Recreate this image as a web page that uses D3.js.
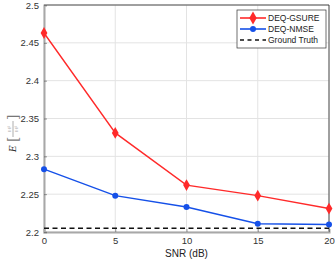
<!DOCTYPE html>
<html><head><meta charset="utf-8">
<script src="https://cdn.jsdelivr.net/npm/d3@7/dist/d3.min.js"></script>
<style>body{margin:0;background:#fff}svg{display:block;font-family:"Liberation Sans",Arial,sans-serif}</style>
</head><body><svg id="c" width="336" height="261"></svg>
<script>
const snr = [0, 5, 10, 15, 20];
const gsure = [2.463, 2.331, 2.262, 2.248, 2.231];
const nmse = [2.283, 2.248, 2.233, 2.211, 2.210];
const groundTruth = 2.205;
const xTicks = [0, 5, 10, 15, 20];
const yTicks = [2.2, 2.25, 2.3, 2.35, 2.4, 2.45, 2.5];
const seriesNames = ["DEQ-GSURE", "DEQ-NMSE", "Ground Truth"];

const svg = d3.select("#c");
const m = {l:44, r:7, t:5, b:29};
const W = 336, H = 261;
const x = d3.scaleLinear().domain([0,20]).range([m.l, W-m.r]);
const y = d3.scaleLinear().domain([2.2,2.5]).range([H-m.b, m.t]);

// grid
svg.append("g").selectAll("line").data(xTicks).join("line")
  .attr("x1",d=>x(d)).attr("x2",d=>x(d)).attr("y1",y(2.2)).attr("y2",y(2.5))
  .attr("stroke","#e3e3e3").attr("stroke-width",1);
svg.append("g").selectAll("line").data(yTicks).join("line")
  .attr("y1",d=>y(d)).attr("y2",d=>y(d)).attr("x1",x(0)).attr("x2",x(20))
  .attr("stroke","#e3e3e3").attr("stroke-width",1);

// box top/right
svg.append("line").attr("x1",x(0)).attr("x2",x(20)).attr("y1",y(2.5)).attr("y2",y(2.5)).attr("stroke","#262626").attr("stroke-width",0.8);
svg.append("line").attr("x1",x(20)).attr("x2",x(20)).attr("y1",y(2.5)).attr("y2",y(2.2)).attr("stroke","#262626").attr("stroke-width",0.8);

// axes
const xAxis = svg.append("g").attr("transform",`translate(0,${y(2.2)})`)
  .call(d3.axisBottom(x).tickValues(xTicks).tickSize(-3).tickPadding(5).tickFormat(d3.format("d")));
const yAxis = svg.append("g").attr("transform",`translate(${x(0)},0)`)
  .call(d3.axisLeft(y).tickValues(yTicks).tickSize(-3).tickPadding(5).tickFormat(d=>d3.format("")(+d.toFixed(2))));
[xAxis,yAxis].forEach(a=>{
  a.select(".domain").attr("stroke","#a8a8a8").attr("stroke-width",2);
  a.selectAll(".tick line").attr("stroke","#555").attr("stroke-width",0.6);
  a.selectAll("text").attr("fill","#333").style("font-size","9.5px");
});

// ground truth
svg.append("line").attr("x1",x(0)).attr("x2",x(20)).attr("y1",y(groundTruth)).attr("y2",y(groundTruth))
  .attr("stroke","#111").attr("stroke-width",1.6).attr("stroke-dasharray","5,3.5");

const line = d3.line().x((d,i)=>x(snr[i])).y(d=>y(d));
const red = "#ff2a2a", blue = "#1550e8";
svg.append("path").attr("d",line(gsure)).attr("fill","none").attr("stroke",red).attr("stroke-width",1.4);
svg.append("path").attr("d",line(nmse)).attr("fill","none").attr("stroke",blue).attr("stroke-width",1.4);
const diamond = d3.symbol().type(d3.symbolDiamond).size(40);
svg.append("g").selectAll("path").data(gsure).join("path")
  .attr("d",diamond).attr("transform",(d,i)=>`translate(${x(snr[i])},${y(d)})`).attr("fill",red);
svg.append("g").selectAll("circle").data(nmse).join("circle")
  .attr("cx",(d,i)=>x(snr[i])).attr("cy",d=>y(d)).attr("r",3).attr("fill",blue);

// x label
svg.append("text").attr("x",(x(0)+x(20))/2).attr("y",257).attr("text-anchor","middle")
  .attr("fill","#222").style("font-size","10px").text("SNR (dB)");

// y label: E [ ‖·‖/‖·‖ ]
const yl = svg.append("g").attr("transform","translate(16,136) rotate(-90)");
yl.append("text").attr("x",-16).attr("y",0).attr("font-style","italic").attr("fill","#333").style("font-size","9px").style("font-family","'DejaVu Serif',serif").text("E");
yl.append("text").attr("x",-6).attr("y",2).attr("fill","#777").style("font-size","14px").style("font-family","'DejaVu Serif',serif").text("[");
yl.append("text").attr("x",16).attr("y",2).attr("fill","#777").style("font-size","14px").style("font-family","'DejaVu Serif',serif").text("]");
yl.append("line").attr("x1",-1).attr("x2",15).attr("y1",-3).attr("y2",-3).attr("stroke","#999").attr("stroke-width",0.8);
yl.append("text").attr("x",7).attr("y",-5).attr("text-anchor","middle").attr("fill","#aaa").style("font-size","4px").text("‖·‖²");
yl.append("text").attr("x",7).attr("y",2).attr("text-anchor","middle").attr("fill","#aaa").style("font-size","4px").text("‖·‖²");

// legend
const lg = svg.append("g");
lg.append("rect").attr("x",237).attr("y",10).attr("width",89).attr("height",38).attr("fill","#fff").attr("stroke","#333").attr("stroke-width",0.7);
const rows = [18, 29, 40];
seriesNames.forEach((n,i)=>{
  const yy = rows[i];
  const ln = lg.append("line").attr("x1",240).attr("x2",266).attr("y1",yy).attr("y2",yy).attr("stroke-width",1.6);
  if(i===0){ ln.attr("stroke",red); lg.append("path").attr("d",d3.symbol().type(d3.symbolDiamond).size(48)).attr("transform",`translate(253,${yy})`).attr("fill",red); }
  if(i===1){ ln.attr("stroke",blue); lg.append("circle").attr("cx",253).attr("cy",yy).attr("r",3).attr("fill",blue); }
  if(i===2){ ln.attr("stroke","#111").attr("stroke-dasharray","4,3.5"); }
  lg.append("text").attr("x",268).attr("y",yy+3).attr("fill","#222").style("font-size","8.5px").text(n);
});
</script></body></html>
